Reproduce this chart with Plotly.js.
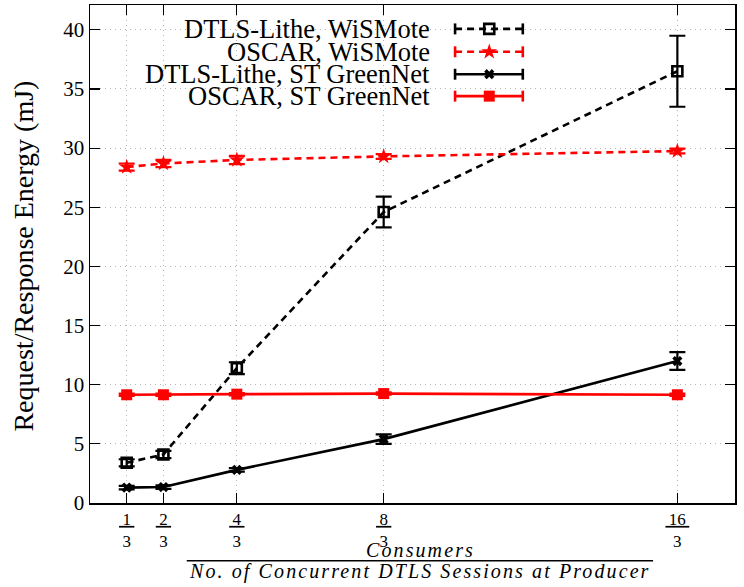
<!DOCTYPE html>
<html>
<head>
<meta charset="utf-8">
<script src="https://cdn.plot.ly/plotly-3.0.1.min.js"></script>
<style>html,body{margin:0;padding:0;background:#fff}#chart{width:744px;height:587px}</style>
</head>
<body>
<div id="chart"></div>
<script>
// ---- data ----
const xValues = [1, 2, 4, 8, 16];
const tickLabels = ["1", "2", "4", "8", "16"]; // numerators, each over 3
const seriesNames = ["DTLS-Lithe, WiSMote", "OSCAR, WiSMote", "DTLS-Lithe, ST GreenNet", "OSCAR, ST GreenNet"];
const dtlsWiSMote = [3.4, 4.1, 11.4, 24.6, 36.5];
const dtlsWiSMoteErr = [0.3, 0.3, 0.5, 1.3, 3.0];
const oscarWiSMote = [28.4, 28.7, 29.0, 29.3, 29.75];
const oscarWiSMoteErr = [0.3, 0.3, 0.35, 0.2, 0.2];
const dtlsGreenNet = [1.3, 1.35, 2.8, 5.4, 12.0];
const dtlsGreenNetErr = [0.15, 0.15, 0.15, 0.4, 0.75];
const oscarGreenNet = [9.15, 9.15, 9.2, 9.25, 9.15];
const oscarGreenNetErr = [0.1, 0.1, 0.1, 0.1, 0.1];

// ---- styles ----
const SERIF = "'Liberation Serif', 'DejaVu Serif', 'Times New Roman', Times, serif";
const styles = [
  {color: "#000", dash: "7px,5px", symbol: "square-open", size: 10, mlw: 2.6},
  {color: "#ff0000", dash: "7px,5px", symbol: "star", size: 12, mlw: 0},
  {color: "#000", dash: "solid", symbol: "x", size: 9, mlw: 0},
  {color: "#ff0000", dash: "solid", symbol: "square", size: 11, mlw: 0}
];
const seriesY = [dtlsWiSMote, oscarWiSMote, dtlsGreenNet, oscarGreenNet];
const seriesErr = [dtlsWiSMoteErr, oscarWiSMoteErr, dtlsGreenNetErr, oscarGreenNetErr];

const traces = seriesY.map((y, i) => ({
  type: "scatter", mode: "lines+markers", x: xValues, y: y, name: seriesNames[i],
  line: {color: styles[i].color, width: 2.6, dash: styles[i].dash},
  marker: {symbol: styles[i].symbol, size: styles[i].size, color: styles[i].color,
           line: {color: styles[i].color, width: styles[i].mlw}},
  error_y: {type: "data", array: seriesErr[i], visible: true, color: styles[i].color, thickness: 2.2, width: 8},
  showlegend: false, cliponaxis: false
}));

// custom legend (text right aligned, sample to the right), paper coords
const legRows = [0.952, 0.906, 0.861, 0.817];
const legTextX = 0.530, legX0 = 0.566, legX1 = 0.671, legXm = 0.619, capH = 0.011;
const shapes = [];
const annotations = [];
seriesNames.forEach((n, i) => {
  annotations.push({xref: "paper", yref: "paper", x: legTextX, y: legRows[i], text: n, showarrow: false,
    xanchor: "right", yanchor: "middle", font: {family: SERIF, size: 26.5, color: "#000"}});
  shapes.push({type: "line", xref: "paper", yref: "paper", x0: legX0, x1: legX1, y0: legRows[i], y1: legRows[i],
    line: {color: styles[i].color, width: 2.6, dash: styles[i].dash}});
  [legX0, legX1].forEach(xx => shapes.push({type: "line", xref: "paper", yref: "paper", x0: xx, x1: xx,
    y0: legRows[i] - capH, y1: legRows[i] + capH, line: {color: styles[i].color, width: 2.6}}));
  traces.push({type: "scatter", mode: "markers", x: [legXm], y: [legRows[i]], xaxis: "x2", yaxis: "y2",
    marker: {symbol: styles[i].symbol, size: styles[i].size, color: styles[i].color,
             line: {color: styles[i].color, width: styles[i].mlw}},
    showlegend: false, hoverinfo: "skip", cliponaxis: false});
});

// axis titles
annotations.push({xref: "paper", yref: "paper", x: -0.103, y: 0.496, text: "Request/Response Energy (mJ)",
  textangle: -90, showarrow: false, xanchor: "center", yanchor: "middle",
  font: {family: SERIF, size: 28, color: "#000"}});
annotations.push({xref: "paper", yref: "paper", x: 0.512, y: -0.094,
  text: "<span style='letter-spacing:2.1px'><i>Consumers</i></span>",
  showarrow: false, xanchor: "center", yanchor: "middle", font: {family: SERIF, size: 20, color: "#000"}});
annotations.push({xref: "paper", yref: "paper", x: 0.512, y: -0.138,
  text: "<span style='letter-spacing:2.1px'><i>No. of Concurrent DTLS Sessions at Producer</i></span>",
  showarrow: false, xanchor: "center", yanchor: "middle", font: {family: SERIF, size: 20, color: "#000"}});
shapes.push({type: "line", xref: "paper", yref: "paper", x0: 0.150, x1: 0.873, y0: -0.116, y1: -0.116,
  line: {color: "#000", width: 1.3}});

const layout = {
  width: 744, height: 587,
  margin: {l: 90, r: 9, t: 5, b: 84},
  paper_bgcolor: "#fff", plot_bgcolor: "#fff",
  font: {family: SERIF, size: 20, color: "#000"},
  xaxis: {
    range: [0, 17.57], tickvals: xValues,
    ticktext: tickLabels.map(t => "<u>\u2009" + t + "\u2009</u><br>3"),
    ticks: "inside", ticklen: 10, tickwidth: 1.2, tickcolor: "#000",
    showline: true, linecolor: "#000", linewidth: 1.5, mirror: "ticks",
    showgrid: true, gridcolor: "#b4b4b4", griddash: "1px,4px", gridwidth: 1,
    zeroline: false, tickfont: {family: SERIF, size: 17}
  },
  yaxis: {
    range: [0, 42.1], tickvals: [0, 5, 10, 15, 20, 25, 30, 35, 40],
    ticks: "inside", ticklen: 10, tickwidth: 1.2, tickcolor: "#000",
    showline: true, linecolor: "#000", linewidth: 1.5, mirror: "ticks",
    showgrid: true, gridcolor: "#b4b4b4", griddash: "1px,4px", gridwidth: 1,
    zeroline: false, tickfont: {family: SERIF, size: 21}
  },
  xaxis2: {overlaying: "x", range: [0, 1], visible: false, fixedrange: true},
  yaxis2: {overlaying: "y", range: [0, 1], visible: false, fixedrange: true},
  shapes: shapes, annotations: annotations, showlegend: false
};

Plotly.newPlot("chart", traces, layout, {displayModeBar: false, staticPlot: true});
</script>
</body>
</html>
